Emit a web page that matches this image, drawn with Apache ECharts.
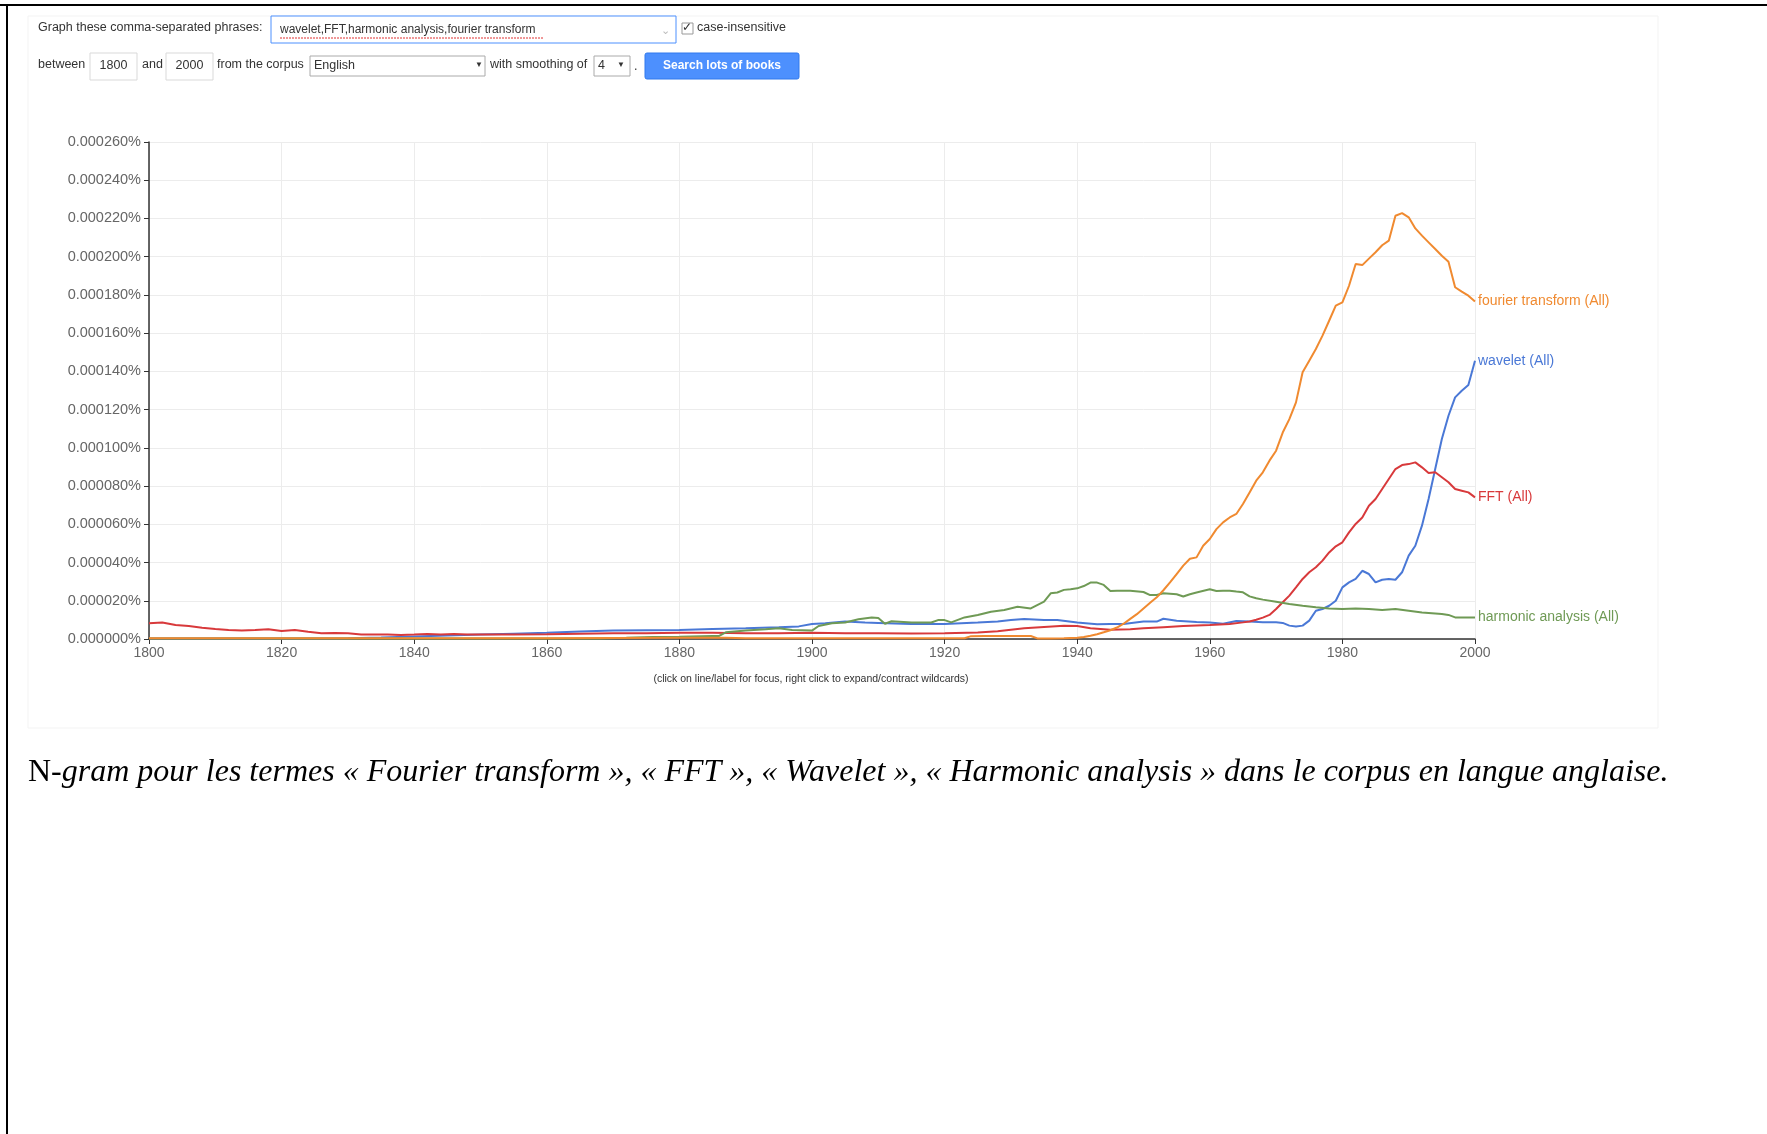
<!DOCTYPE html>
<html>
<head>
<meta charset="utf-8">
<script src="https://cdn.jsdelivr.net/npm/echarts@6/dist/echarts.min.js"></script>
<style>
html,body{margin:0;padding:0;background:#fff;}
#chart{width:1767px;height:1134px;}
</style>
</head>
<body>
<div id="chart"></div>
<script>
// Values are in units of 1e-6 % (0.000001%)
const yTickLabels = ['0.000000%','0.000020%','0.000040%','0.000060%','0.000080%','0.000100%','0.000120%','0.000140%','0.000160%','0.000180%','0.000200%','0.000220%','0.000240%','0.000260%'];
const xTickYears = [1800,1820,1840,1860,1880,1900,1920,1940,1960,1980,2000];

const waveletYears = [1800,1810,1820,1830,1835,1840,1845,1850,1855,1860,1865,1870,1875,1880,1885,1890,1895,1898,1900,1902,1905,1908,1910,1915,1920,1925,1928,1930,1932,1935,1937,1940,1943,1945,1947,1950,1952,1953,1955,1958,1960,1962,1964,1966,1968,1970,1971,1972,1973,1974,1975,1976,1977,1978,1979,1980,1981,1982,1983,1984,1985,1986,1987,1988,1989,1990,1991,1992,1993,1994,1995,1996,1997,1998,1999,2000];
const waveletValues = [0.3,0.3,0.3,0.4,0.8,1.3,1.8,2.3,2.8,3.3,3.9,4.4,4.6,4.7,5.2,5.6,6.1,6.6,7.9,8.2,9.1,8.6,8.4,7.9,7.9,8.6,9.2,9.9,10.5,9.9,9.9,8.6,7.7,7.9,7.9,9.1,9.1,10.6,9.6,8.9,8.6,8.0,9.4,9.1,8.7,8.7,8.4,7.0,6.6,7.0,9.6,14.8,15.7,17.4,20,27,29.6,31.4,35.7,34,29.6,31,31.4,31,34.9,43.6,48.8,59.3,73.2,88.9,104.6,116.8,126.4,129.9,132.9,145.6];

const fftYears = [1800,1802,1804,1806,1808,1810,1812,1814,1816,1818,1820,1822,1824,1826,1828,1830,1832,1834,1836,1838,1840,1842,1844,1846,1848,1850,1855,1860,1865,1870,1875,1880,1885,1890,1895,1900,1905,1910,1915,1920,1925,1928,1932,1935,1938,1940,1942,1945,1948,1950,1953,1956,1960,1963,1965,1966,1967,1968,1969,1970,1971,1972,1973,1974,1975,1976,1977,1978,1979,1980,1981,1982,1983,1984,1985,1986,1987,1988,1989,1990,1991,1992,1993,1994,1995,1996,1997,1998,1999,2000];
const fftValues = [8.2,8.6,7.3,6.8,5.9,5.2,4.7,4.4,4.7,5.1,4.2,4.7,3.8,3.0,3.1,3.0,2.3,2.3,2.3,2.1,2.3,2.6,2.4,2.6,2.4,2.4,2.4,2.5,2.8,3.0,3.0,3.3,3.3,3.0,3.0,3.3,3.0,3.0,2.9,3.0,3.4,4.0,5.6,6.3,6.9,6.8,5.6,4.8,5.1,5.6,6.2,6.8,7.3,7.8,8.7,9.2,10.1,11.2,12.6,15.7,19.2,22.7,27,31.4,34.9,37.5,41,45.3,48.5,50.6,55.8,60.2,63.6,69.7,73.2,78.5,83.7,88.9,91,91.5,92.4,89.8,86.8,87.2,84.6,82,78.5,77.6,76.7,74.1];

const harmonicYears = [1800,1820,1840,1860,1868,1872,1876,1880,1885,1886,1887,1890,1893,1895,1897,1900,1901,1903,1905,1907,1909,1910,1911,1912,1915,1918,1919,1920,1921,1923,1925,1927,1929,1931,1933,1935,1936,1937,1938,1939,1940,1941,1942,1943,1944,1945,1946,1948,1950,1951,1952,1953,1955,1956,1957,1958,1960,1961,1962,1963,1964,1965,1966,1967,1968,1970,1972,1974,1976,1978,1980,1982,1984,1986,1988,1990,1992,1994,1995,1996,1997,1998,2000];
const harmonicValues = [0.2,0.2,0.2,0.2,0.3,0.6,1.0,1.2,1.6,1.6,3.5,4.4,5.1,5.6,4.7,4.4,6.8,8.2,8.6,10.3,11.3,11.0,8.0,9.3,8.6,8.6,9.9,9.9,8.7,11.3,12.6,14.3,15.2,16.9,16.0,19.5,23.9,24.3,25.7,26,26.5,27.7,29.5,29.5,28.3,25.1,25.3,25.3,24.6,23,23,23.9,23.4,22.2,23.4,24.3,26,25.1,25.3,25.3,24.8,24.4,22.3,21.3,20.6,19.5,18.3,17.4,16.6,16,15.7,16,15.7,15.2,15.7,14.8,13.9,13.4,13.1,12.6,11.3,11.2,11.3];

const fourierYears = [1800,1810,1820,1830,1840,1850,1860,1870,1880,1887,1890,1900,1910,1920,1923,1924,1926,1930,1933,1934,1936,1938,1940,1941,1942,1943,1944,1945,1946,1947,1948,1949,1950,1951,1952,1953,1954,1955,1956,1957,1958,1959,1960,1961,1962,1963,1964,1965,1966,1967,1968,1969,1970,1971,1972,1973,1974,1975,1976,1977,1978,1979,1980,1981,1982,1983,1984,1985,1986,1987,1988,1989,1990,1991,1992,1993,1994,1995,1996,1997,1998,1999,2000];
const fourierValues = [0.4,0.4,0.4,0.4,0.4,0.4,0.4,0.5,0.6,0.6,0.4,0.4,0.4,0.4,0.4,1.5,1.6,1.6,1.6,0.3,0.3,0.4,0.7,1.0,1.7,2.5,3.5,4.6,6,8,10.5,13,16,19,21.8,25.5,29.6,34,38.4,42,42.7,48.8,52.3,57.5,61,63.6,65.4,70.6,76.7,82.8,87.2,93.3,98.5,108,115,123.8,139.5,145.6,151.7,158.7,166.5,174.4,176.1,184.8,196.2,195.6,199,202.3,206,208.4,221.4,222.8,220.6,214.8,211,207.5,204,200.5,197.4,184,181.7,179.6,176.5];

const seriesNames = ['wavelet (All)','FFT (All)','harmonic analysis (All)','fourier transform (All)'];
const seriesColors = ['#4a78d6','#d8393b','#6f9a55','#f08a30'];

const caption = 'gram pour les termes « Fourier transform », « FFT », « Wavelet », « Harmonic analysis » dans le corpus en langue anglaise.';

function pairs(xs, ys){ return xs.map((x,i)=>[x, ys[i]]); }
const allData = [pairs(waveletYears,waveletValues), pairs(fftYears,fftValues), pairs(harmonicYears,harmonicValues), pairs(fourierYears,fourierValues)];

const chart = echarts.init(document.getElementById('chart'), null, {renderer:'canvas'});
const F = 'Liberation Sans, Arial, sans-serif';

function box(x,y,w,h,stroke){ return {type:'rect', shape:{x,y,width:w,height:h}, style:{fill:'#fff', stroke:stroke||'#d9d9d9', lineWidth:1}}; }
function txt(x,y,t,opt){ return {type:'text', x, y, style:Object.assign({text:t, fill:'#333', font:'12.5px '+F, textVerticalAlign:'middle'}, opt||{})}; }

const graphics = [
  // page borders
  {type:'line', shape:{x1:0,y1:5,x2:1767,y2:5}, style:{stroke:'#000', lineWidth:2}},
  {type:'line', shape:{x1:7,y1:5,x2:7,y2:1134}, style:{stroke:'#000', lineWidth:2}},
  // faint screenshot frame
  {type:'rect', shape:{x:28,y:16,width:1630,height:712}, style:{fill:'none', stroke:'#f3f3f3', lineWidth:1}},
  txt(38,28,'Graph these comma-separated phrases:'),
  box(271,16,405,27,'#4d90fe'),
  txt(280,30,'wavelet,FFT,harmonic analysis,fourier transform',{font:'12px '+F}),
  {type:'line', shape:{x1:280,y1:38,x2:544,y2:38}, style:{stroke:'#e03030', lineWidth:1, lineDash:[2,1]}},
  txt(661,31,'⌄',{fill:'#bbb', font:'11px '+F}),
  box(682,23,11,11,'#999'),
  txt(682,28,'✓',{fill:'#333', font:'12px '+F}),
  txt(697,28,'case-insensitive'),
  txt(38,65,'between'),
  box(90,53,47,27),
  txt(113.5,66,'1800',{textAlign:'center'}),
  txt(142,65,'and'),
  box(166,53,47,27),
  txt(189.5,66,'2000',{textAlign:'center'}),
  txt(217,65,'from the corpus'),
  box(310,56,175,20,'#aaa'),
  txt(314,66,'English'),
  txt(475,65,'▼',{font:'8px '+F}),
  txt(490,65,'with smoothing of'),
  box(594,56,36,20,'#aaa'),
  txt(598,66,'4'),
  txt(617,65,'▼',{font:'8px '+F}),
  txt(634,67,'.'),
  {type:'rect', shape:{x:645,y:53,width:154,height:26, r:2}, style:{fill:'#4d90fe', stroke:'#3079ed', lineWidth:1}},
  txt(722,66,'Search lots of books',{textAlign:'center', fill:'#fff', font:'bold 12px '+F}),
  txt(811,679,'(click on line/label for focus, right click to expand/contract wildcards)',{textAlign:'center', font:'10.5px '+F}),
  {type:'text', x:28, y:773, style:{rich:{u:{font:'32px Liberation Serif, Times New Roman, serif', fill:'#000'}, i:{font:'italic 32px Liberation Serif, Times New Roman, serif', fill:'#000'}}, text:'{u|N-}{i|'+caption+'}', textVerticalAlign:'middle'}}
];

chart.setOption({
  animation:false,
  backgroundColor:'#fff',
  grid:{left:149, right:292, top:142, bottom:495, containLabel:false},
  xAxis:{
    type:'value', min:1800, max:2000, interval:20,
    axisLine:{show:true, lineStyle:{color:'#333', width:1.5}},
    axisTick:{show:true, length:5, lineStyle:{color:'#333'}},
    axisLabel:{color:'#666', fontSize:14, fontFamily:F, margin:7, formatter:v=>String(v)},
    splitLine:{show:true, lineStyle:{color:'#ececec', width:1}}
  },
  yAxis:{
    type:'value', min:0, max:260, interval:20,
    axisLine:{show:true, lineStyle:{color:'#333', width:1.5}},
    axisTick:{show:true, length:5, lineStyle:{color:'#333'}},
    axisLabel:{color:'#666', fontSize:14.5, fontFamily:F, margin:8, formatter:v=>yTickLabels[Math.round(v/20)]},
    splitLine:{show:true, lineStyle:{color:'#ececec', width:1}}
  },
  series: allData.map((d,i)=>({
    type:'line', name:seriesNames[i], data:d, showSymbol:false, symbol:'none',
    lineStyle:{color:seriesColors[i], width:2}, itemStyle:{color:seriesColors[i]},
    endLabel:{show:true, formatter:seriesNames[i], color:seriesColors[i], fontSize:14, fontFamily:F, distance:3},
    z: i===3 ? 5 : 2+i*0.1
  })),
  graphic: graphics
});
</script>
</body>
</html>
